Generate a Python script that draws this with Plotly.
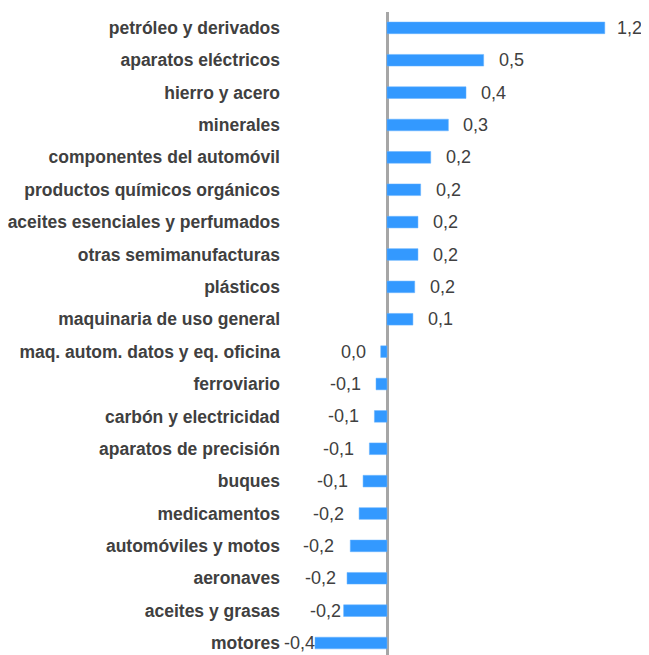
import plotly.graph_objects as go

categories = [
    "petróleo y derivados", "aparatos eléctricos", "hierro y acero", "minerales",
    "componentes del automóvil", "productos químicos orgánicos",
    "aceites esenciales y perfumados", "otras semimanufacturas", "plásticos",
    "maquinaria de uso general", "maq. autom. datos y eq. oficina", "ferroviario",
    "carbón y electricidad", "aparatos de precisión", "buques", "medicamentos",
    "automóviles y motos", "aeronaves", "aceites y grasas", "motores",
]
values = [1.21, 0.537, 0.439, 0.341, 0.243, 0.187, 0.172, 0.172, 0.154, 0.144,
          -0.035, -0.061, -0.07, -0.098, -0.133, -0.155, -0.204, -0.222, -0.241, -0.40]
value_labels = ["1,2", "0,5", "0,4", "0,3", "0,2", "0,2", "0,2", "0,2", "0,2", "0,1",
                "0,0", "-0,1", "-0,1", "-0,1", "-0,1", "-0,2", "-0,2", "-0,2", "-0,2", "-0,4"]
# pixel gap between bar end and its value label (style only)
label_gap = [10] + [13] * 15 + [14, 9, 1, -2]

BAR = "#3399FF"
TXT = "#404040"
FONT = "Liberation Sans"

fig = go.Figure()
fig.add_trace(go.Bar(
    x=values, y=categories, orientation="h",
    marker=dict(color=BAR, line=dict(color="#66B3FF", width=0.5)),
    width=0.36, hoverinfo="skip",
))

for c, v, t, g in zip(categories, values, value_labels, label_gap):
    fig.add_annotation(
        x=v, y=c, text=t, showarrow=False,
        xanchor="left" if v >= 0 else "right",
        xshift=g if v >= 0 else -g,
        font=dict(family=FONT, size=18, color=TXT),
    )

# page has an 8px body margin, so the figure is sized/placed to compensate
fig.update_layout(
    width=641, height=647,
    margin=dict(l=277, r=0, t=4, b=0),
    paper_bgcolor="white", plot_bgcolor="white",
    showlegend=False,
    font=dict(family=FONT, size=17.5, color=TXT),
    xaxis=dict(
        range=[-0.5667, 1.4556], showgrid=False, showticklabels=False,
        zeroline=True, zerolinecolor="#A6A6A6", zerolinewidth=3,
        fixedrange=True, automargin=False,
    ),
    yaxis=dict(
        type="category", categoryorder="array", categoryarray=categories,
        range=[19.37, -0.49], showgrid=False, ticks="", automargin=False,
        tickfont=dict(family=FONT, size=17.5, color=TXT, weight="bold"),
        ticklabelstandoff=4,
    ),
)

fig.write_html("out.html")
